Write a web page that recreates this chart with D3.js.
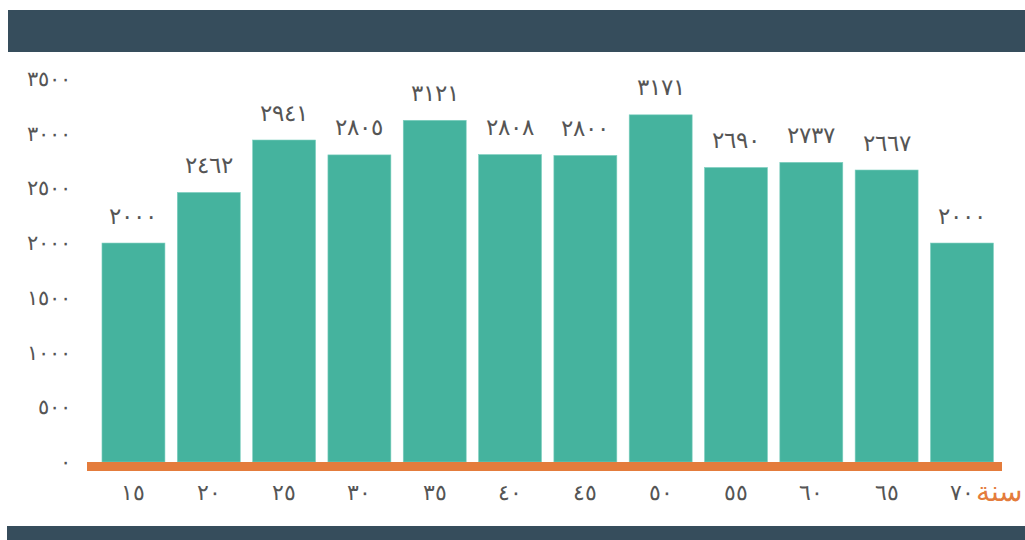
<!DOCTYPE html>
<html>
<head>
<meta charset="utf-8">
<script src="https://cdn.jsdelivr.net/npm/d3@7"></script>
<style>
  body { margin: 0; background: #fff; }
  text { font-family: "DejaVu Sans", sans-serif; font-weight: 200; }
</style>
</head>
<body>
<div id="chart"></div>
<script>
// data
const ages = [15, 20, 25, 30, 35, 40, 45, 50, 55, 60, 65, 70];
const counts = [2000, 2462, 2941, 2805, 3121, 2808, 2800, 3171, 2690, 2737, 2667, 2000];
const yTicks = [0, 500, 1000, 1500, 2000, 2500, 3000, 3500];
const unitLabel = "سنة";

const W = 1025, H = 540;
const arabicDigits = "٠١٢٣٤٥٦٧٨٩";
const ar = n => String(n).replace(/[0-9]/g, d => arabicDigits[+d]);

const svg = d3.select("#chart")
  .append("svg")
  .attr("width", W)
  .attr("height", H);

// header & footer bands
svg.append("rect").attr("x", 8).attr("y", 10).attr("width", W - 8).attr("height", 42).attr("fill", "#364D5C");
svg.append("rect").attr("x", 7).attr("y", 526).attr("width", W - 7).attr("height", 14).attr("fill", "#364D5C");

const x = d3.scaleBand()
  .domain(ages)
  .range([95.8, 999.6])
  .paddingInner(0.164)
  .paddingOuter(0.082);

const y = d3.scaleLinear()
  .domain([0, 3500])
  .range([462, 78.8]);

// y labels
svg.append("g")
  .selectAll("text")
  .data(yTicks)
  .join("text")
  .attr("x", 71)
  .attr("y", d => y(d) + 1)
  .attr("text-anchor", "end")
  .attr("dominant-baseline", "middle")
  .attr("font-size", 21)
  .attr("fill", "#555")
  .text(d => ar(d));

// bars
svg.append("g")
  .selectAll("rect")
  .data(counts)
  .join("rect")
  .attr("x", (d, i) => x(ages[i]))
  .attr("y", d => y(d))
  .attr("width", x.bandwidth())
  .attr("height", d => y(0) - y(d))
  .attr("fill", "#45B39E")
  .attr("stroke", "#7FD0C0")
  .attr("stroke-width", 0.6);

// value labels
svg.append("g")
  .selectAll("text")
  .data(counts)
  .join("text")
  .attr("x", (d, i) => x(ages[i]) + x.bandwidth() / 2)
  .attr("y", d => y(d) - 26)
  .attr("text-anchor", "middle")
  .attr("dominant-baseline", "middle")
  .attr("font-size", 23)
  .attr("fill", "#555")
  .text(d => ar(d));

// baseline
svg.append("rect")
  .attr("x", 87).attr("y", y(0))
  .attr("width", 915).attr("height", 9)
  .attr("fill", "#E47C3C");

// x labels
svg.append("g")
  .selectAll("text")
  .data(ages)
  .join("text")
  .attr("x", d => x(d) + x.bandwidth() / 2)
  .attr("y", 494)
  .attr("text-anchor", "middle")
  .attr("dominant-baseline", "middle")
  .attr("font-size", 22)
  .attr("fill", "#555")
  .text(d => ar(d));

svg.append("text")
  .attr("x", 1022)
  .attr("y", 493)
  .attr("text-anchor", "end")
  .attr("dominant-baseline", "middle")
  .attr("font-size", 28)
  .attr("fill", "#E47C3C")
  .text(unitLabel);
</script>
</body>
</html>
